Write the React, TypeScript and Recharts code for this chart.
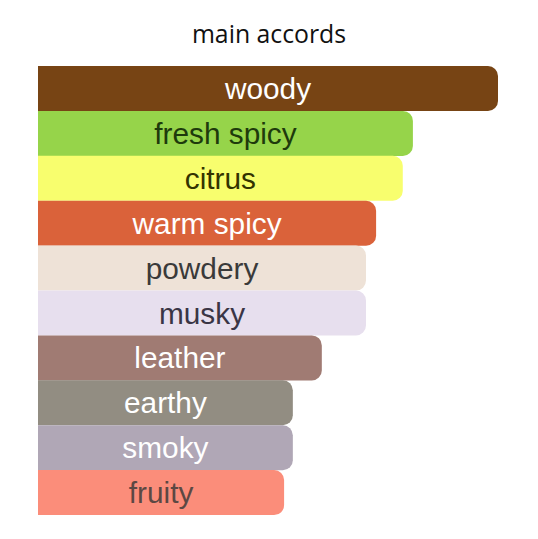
import React from "react";
import { BarChart, Bar, XAxis, YAxis, Cell, LabelList } from "recharts";

const accords = ["woody", "fresh spicy", "citrus", "warm spicy", "powdery", "musky", "leather", "earthy", "smoky", "fruity"];
const strengths = [100, 81.5, 79.3, 73.5, 71.3, 71.3, 61.7, 55.4, 55.4, 53.5];
const barColors = ["#774414", "#96d44a", "#f8fe6e", "#da623a", "#eee2d7", "#e7dfee", "#a07b73", "#928d82", "#b0a7b6", "#fb8d7a"];
const textColors = ["#ffffff", "#1e3a0c", "#333300", "#ffffff", "#3a3a3a", "#3a3545", "#ffffff", "#ffffff", "#ffffff", "#5c4843"];

const data = accords.map((name, i) => ({ name, value: strengths[i], text: textColors[i] }));

const renderLabel = (props: any) => {
  const { x, y, width, height, index } = props;
  return (
    <text
      x={x + width / 2}
      y={y + height / 2}
      textAnchor="middle"
      dominantBaseline="central"
      fill={textColors[index]}
      fontFamily="'Liberation Sans', Arial, sans-serif"
      fontSize={29.8}
    >
      {accords[index]}
    </text>
  );
};

export default function App() {
  return (
    <div style={{ position: "absolute", left: 0, top: 0, width: 538, height: 539, background: "#fff" }}>
      <div
        style={{
          position: "absolute",
          left: 0,
          top: 16,
          width: 538,
          textAlign: "center",
          fontFamily: "'Open Sans', 'Noto Sans', sans-serif",
          fontSize: 24.8,
          lineHeight: "34px",
          color: "#111",
        }}
      >
        main accords
      </div>
      <BarChart
        width={538}
        height={539}
        data={data}
        layout="vertical"
        barCategoryGap={0}
        margin={{ top: 66, right: 40, bottom: 24, left: 38 }}
      >
        <XAxis type="number" domain={[0, 100]} hide />
        <YAxis type="category" dataKey="name" hide />
        <Bar dataKey="value" radius={[0, 10, 10, 0]} isAnimationActive={false}>
          {data.map((d, i) => (
            <Cell key={d.name} fill={barColors[i]} />
          ))}
          <LabelList dataKey="name" content={renderLabel} />
        </Bar>
      </BarChart>
    </div>
  );
}
